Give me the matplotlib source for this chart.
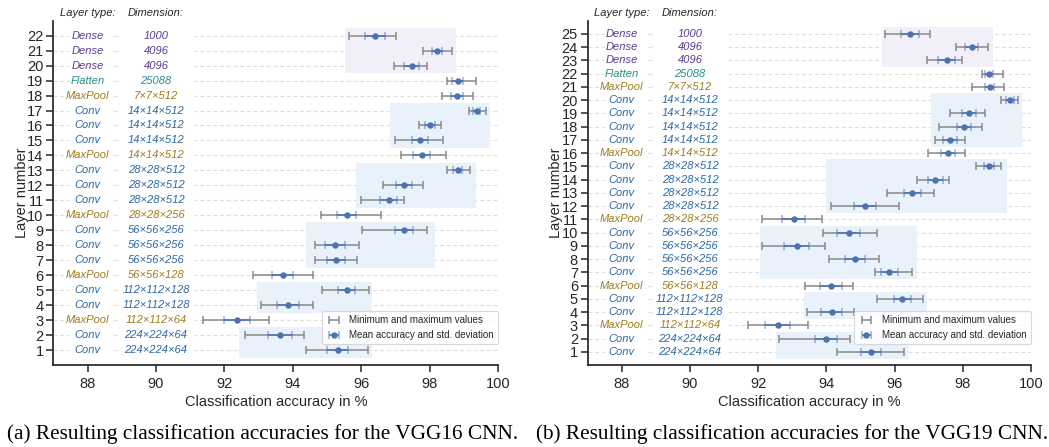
import matplotlib
matplotlib.use("Agg")
import matplotlib.pyplot as plt
import numpy as np

plt.rcParams['font.family'] = ['Liberation Sans', 'DejaVu Sans']

# ---------------- VGG16 data (rows 1..22) ----------------
vgg16_types = ["Conv", "Conv", "MaxPool", "Conv", "Conv", "MaxPool", "Conv", "Conv", "Conv",
               "MaxPool", "Conv", "Conv", "Conv", "MaxPool", "Conv", "Conv", "Conv", "MaxPool",
               "Flatten", "Dense", "Dense", "Dense"]
vgg16_dims = ["224×224×64", "224×224×64", "112×112×64", "112×112×128", "112×112×128",
              "56×56×128", "56×56×256", "56×56×256", "56×56×256", "28×28×256",
              "28×28×512", "28×28×512", "28×28×512", "14×14×512", "14×14×512",
              "14×14×512", "14×14×512", "7×7×512", "25088", "4096", "4096", "1000"]
vgg16_min = [94.38, 92.60, 91.37, 93.06, 94.84, 92.83, 94.66, 94.66, 96.02, 94.81, 95.98,
             96.62, 98.49, 97.16, 96.99, 97.67, 99.15, 98.37, 98.51, 96.96, 97.81, 95.65]
vgg16_mean = [95.31, 93.62, 92.37, 93.87, 95.57, 93.70, 95.26, 95.24, 97.25, 95.57, 96.80,
              97.24, 98.81, 97.76, 97.71, 98.00, 99.37, 98.80, 98.82, 97.47, 98.21, 96.40]
vgg16_std = [0.30, 0.35, 0.38, 0.32, 0.25, 0.31, 0.27, 0.29, 0.26, 0.27, 0.25,
             0.23, 0.14, 0.24, 0.23, 0.15, 0.11, 0.17, 0.16, 0.21, 0.16, 0.29]
vgg16_max = [96.18, 94.31, 93.31, 94.60, 96.21, 94.60, 95.87, 95.94, 97.91, 96.57, 97.26,
             97.81, 99.17, 98.47, 98.39, 98.34, 99.63, 99.25, 99.34, 97.93, 98.64, 97.01]
# shaded layer groups: first row, last row, x-from, x-to, kind
vgg16_groups = [(1, 2, 92.43, 96.30, "Conv"), (4, 5, 92.94, 96.30, "Conv"),
                (7, 9, 94.38, 98.15, "Conv"), (11, 13, 95.84, 99.35, "Conv"),
                (15, 17, 96.84, 99.76, "Conv"), (20, 22, 95.52, 98.76, "Dense")]

# ---------------- VGG19 data (rows 1..25) ----------------
vgg19_types = ["Conv", "Conv", "MaxPool", "Conv", "Conv", "MaxPool", "Conv", "Conv", "Conv",
               "Conv", "MaxPool", "Conv", "Conv", "Conv", "Conv", "MaxPool", "Conv", "Conv",
               "Conv", "Conv", "MaxPool", "Flatten", "Dense", "Dense", "Dense"]
vgg19_dims = ["224×224×64", "224×224×64", "112×112×64", "112×112×128", "112×112×128",
              "56×56×128", "56×56×256", "56×56×256", "56×56×256", "56×56×256", "28×28×256",
              "28×28×512", "28×28×512", "28×28×512", "28×28×512", "14×14×512", "14×14×512",
              "14×14×512", "14×14×512", "14×14×512", "7×7×512", "25088", "4096", "4096", "1000"]
vgg19_min = [94.30, 92.61, 91.71, 93.42, 95.48, 93.36, 95.43, 94.08, 92.12, 93.89, 92.10,
             94.13, 95.79, 96.67, 98.38, 96.99, 97.20, 97.31, 97.63, 99.12, 98.26, 98.55,
             96.96, 97.81, 95.72]
vgg19_mean = [95.31, 93.99, 92.57, 94.16, 96.23, 94.14, 95.84, 94.84, 93.13, 94.65, 93.04,
              95.13, 96.52, 97.19, 98.77, 97.56, 97.63, 98.03, 98.19, 99.38, 98.79, 98.78,
              97.53, 98.27, 96.46]
vgg19_std = [0.29, 0.32, 0.36, 0.31, 0.26, 0.32, 0.25, 0.30, 0.37, 0.35, 0.33,
             0.32, 0.25, 0.22, 0.14, 0.21, 0.21, 0.20, 0.20, 0.12, 0.14, 0.12,
             0.25, 0.19, 0.26]
vgg19_max = [96.28, 94.69, 93.47, 94.82, 96.84, 94.77, 96.52, 95.54, 93.96, 95.48, 93.86,
             96.14, 97.17, 97.61, 99.12, 98.08, 98.08, 98.57, 98.65, 99.61, 99.20, 99.18,
             97.99, 98.75, 97.05]
vgg19_groups = [(1, 2, 92.51, 96.38, "Conv"), (4, 5, 93.33, 96.95, "Conv"),
                (7, 10, 92.04, 96.66, "Conv"), (12, 15, 93.99, 99.29, "Conv"),
                (17, 20, 97.07, 99.73, "Conv"), (23, 25, 95.62, 98.88, "Dense")]

xticks = [88, 90, 92, 94, 96, 98, 100]
captions = ["(a) Resulting classification accuracies for the VGG16 CNN.",
            "(b) Resulting classification accuracies for the VGG19 CNN."]

type_colors = {"Conv": "#2b68a6", "MaxPool": "#9e7c1e", "Flatten": "#24908a", "Dense": "#5b3a96"}
shade_colors = {"Conv": "#e9f1fb", "Dense": "#f2eff9"}
INK = "#262626"
BLUE = "#4c72b0"
GRAY = "#8a8a8a"

fig = plt.figure(figsize=(10.49, 4.47), dpi=100)
ax1 = fig.add_axes([0.0508, 0.1834, 0.4242, 0.7703])
ax2 = fig.add_axes([0.5602, 0.1834, 0.4226, 0.7703])


def draw(ax, types, dims, mins, means, stds, maxs, groups):
    n = len(types)
    rows = np.arange(1, n + 1)
    mins = np.array(mins); maxs = np.array(maxs)
    ax.set_xlim(87, 100)
    ax.set_ylim(0, n + 1)
    # dashed row guides
    for r in rows:
        ax.axhline(r, color="#dedede", lw=0.8, ls=(0, (3.5, 2.5)), zorder=0.5)
    # white column backgrounds covering guides behind the labels
    ax.axvspan(87.5, 88.7, color="white", zorder=0.8, lw=0)
    ax.axvspan(88.95, 91.1, color="white", zorder=0.8, lw=0)
    # shaded groups
    for (r0, r1, x0, x1, kind) in groups:
        ax.fill_between([x0, x1], r0 - 0.52, r1 + 0.52, color=shade_colors[kind], lw=0, zorder=1)
    # min-max bars
    ax.errorbar((mins + maxs) / 2, rows, xerr=(maxs - mins) / 2, fmt="none",
                ecolor=GRAY, elinewidth=1.1, capsize=3.0, capthick=1.1, zorder=2,
                label="Minimum and maximum values")
    # mean & std
    ms = ax.errorbar(means, rows, xerr=stds, fmt="o", color=BLUE, ms=3.6, ecolor=BLUE,
                     elinewidth=1.1, capsize=3.0, capthick=1.1, zorder=3,
                     label="Mean accuracy and std. deviation")
    for cl in ms[1]:
        cl.set_alpha(0.55)
    # labels
    for r, t, d in zip(rows, types, dims):
        c = type_colors[t]
        ax.text(88, r, t, ha="center", va="center", fontsize=8, style="italic", color=c, zorder=4)
        ax.text(90, r, d, ha="center", va="center", fontsize=8, style="italic", color=c, zorder=4)
    for xh, lab in [(88, "Layer type:"), (90, "Dimension:")]:
        ax.annotate(lab, xy=(xh, 1.0), xycoords=("data", "axes fraction"), xytext=(0, 5.5),
                    textcoords="offset points", ha="center", va="center", fontsize=8,
                    style="italic", color=INK, annotation_clip=False)
    ax.set_yticks(rows)
    ax.set_yticklabels([str(r) for r in rows])
    ax.set_xticks(xticks)
    ax.set_xticklabels([str(x) for x in xticks])
    ax.tick_params(axis="both", labelsize=10.5, colors=INK, length=5, width=1.1)
    ax.tick_params(axis="y", pad=2)
    for s in ["top", "right"]:
        ax.spines[s].set_visible(False)
    for s in ["left", "bottom"]:
        ax.spines[s].set_color(INK)
        ax.spines[s].set_linewidth(1.25)
    ax.set_xlabel("Classification accuracy in %", fontsize=10.5, color=INK, labelpad=3)
    ax.set_ylabel("Layer number", fontsize=10.5, color=INK, labelpad=-1)
    leg = ax.legend(loc="lower right", bbox_to_anchor=(1.0, 0.06), borderaxespad=0,
                    fontsize=7, frameon=True, fancybox=True, edgecolor="#d0d0d0",
                    handlelength=1.6, borderpad=0.45, labelspacing=0.5)
    for t in leg.get_texts():
        t.set_color(INK)
    leg.get_frame().set_linewidth(0.8)


draw(ax1, vgg16_types, vgg16_dims, vgg16_min, vgg16_mean, vgg16_std, vgg16_max, vgg16_groups)
draw(ax2, vgg19_types, vgg19_dims, vgg19_min, vgg19_mean, vgg19_std, vgg19_max, vgg19_groups)

fig.text(0.25, 0.029, captions[0], ha="center", va="center", fontsize=15.3,
         family=["Liberation Serif", "DejaVu Serif"], color="black")
fig.text(0.755, 0.029, captions[1], ha="center", va="center", fontsize=15.3,
         family=["Liberation Serif", "DejaVu Serif"], color="black")

fig.savefig("out.png", dpi=100)
